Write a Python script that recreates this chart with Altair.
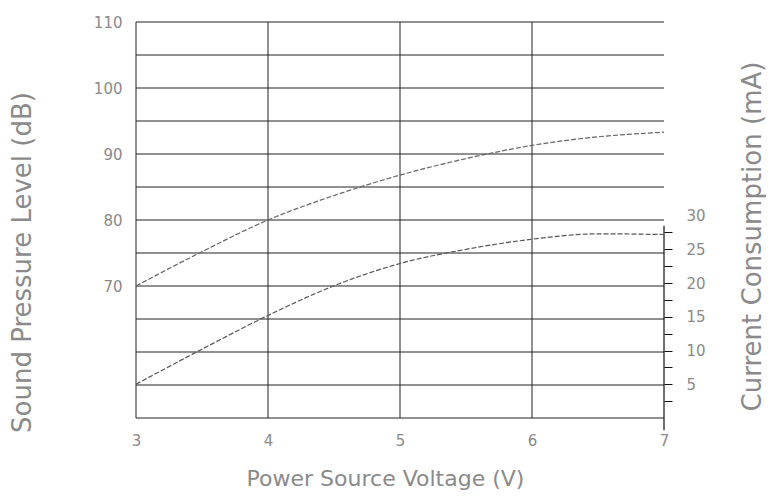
import altair as alt
import pandas as pd

# ---- data ----
voltage = [3.0, 3.5, 4.0, 4.5, 5.0, 5.5, 6.0, 6.5, 7.0]
spl_db = [70.0, 75.2, 80.0, 83.7, 86.8, 89.3, 91.3, 92.6, 93.3]
current_ma = [5.0, 10.2, 15.2, 19.6, 22.9, 25.0, 26.5, 27.3, 27.2]

x_ticks = [3, 4, 5, 6, 7]
v_grid = [3, 4, 5, 6]
db_grid = [50, 55, 60, 65, 70, 75, 80, 85, 90, 95, 100, 105, 110]
db_labels = [70, 80, 90, 100, 110]
ma_ticks = [2.5, 5, 7.5, 10, 12.5, 15, 17.5, 20, 22.5, 25, 27.5, 30]
ma_axis_voltage = [7]
ma_axis_lo = [-1.8]
ma_axis_hi = [28.5]

curve_df = pd.DataFrame({"voltage": voltage, "spl": spl_db, "current": current_ma})
hgrid_df = pd.DataFrame({"db": db_grid})
vgrid_df = pd.DataFrame({"voltage": v_grid})
raxis_df = pd.DataFrame({"voltage": ma_axis_voltage, "lo": ma_axis_lo, "hi": ma_axis_hi})

TEXT = "#8a8a8a"
FONT = "DejaVu Sans"

x_scale = alt.Scale(domain=[3, 7], nice=False, zero=False)
db_scale = alt.Scale(domain=[50, 110], nice=False, zero=False)
ma_scale = alt.Scale(domain=[0, 58.7], nice=False, zero=False)

x_axis = alt.Axis(
    values=x_ticks, grid=False, domain=False, ticks=False, labelFlush=False,
    labelFont=FONT, labelFontSize=15, labelColor=TEXT, labelPadding=15,
    title="Power Source Voltage (V)", titleFont=FONT, titleFontSize=22,
    titleFontWeight="normal", titleColor=TEXT, titleX=249, titleY=60,
    titleAlign="center", titleBaseline="middle",
)
left_axis = alt.Axis(
    orient="left", values=db_labels, grid=False, domain=False, ticks=False,
    labelFont=FONT, labelFontSize=15, labelColor=TEXT, labelPadding=14,
    title="Sound Pressure Level (dB)", titleFont=FONT, titleFontSize=26,
    titleFontWeight="normal", titleColor=TEXT, titleAngle=270,
    titleX=-114, titleY=240, titleAlign="center", titleBaseline="middle",
)
right_axis = alt.Axis(
    orient="right", values=ma_ticks, grid=False, domain=False,
    ticks=True, tickSize=8, tickColor="#111", tickWidth=1,
    tickOpacity={"condition": {"test": "datum.value == 30", "value": 0}, "value": 1},
    labelExpr="datum.value % 5 == 0 ? datum.label : ''",
    labelFont=FONT, labelFontSize=15, labelColor=TEXT, labelPadding=14,
    title="Current Consumption (mA)", titleFont=FONT, titleFontSize=26,
    titleFontWeight="normal", titleColor=TEXT, titleAngle=270,
    titleX=88, titleY=214, titleAlign="center", titleBaseline="middle",
)

hgrid = alt.Chart(hgrid_df).mark_rule(color="#222", strokeWidth=1).encode(
    y=alt.Y("db:Q", scale=db_scale, axis=left_axis)
)
vgrid = alt.Chart(vgrid_df).mark_rule(color="#222", strokeWidth=1).encode(
    x=alt.X("voltage:Q", scale=x_scale, axis=x_axis)
)
spl_line = alt.Chart(curve_df).mark_line(
    color="#666", strokeWidth=1.2, strokeDash=[5, 2], interpolate="monotone"
).encode(
    x=alt.X("voltage:Q", scale=x_scale, axis=x_axis),
    y=alt.Y("spl:Q", scale=db_scale, axis=left_axis),
)

cur_line = alt.Chart(curve_df).mark_line(
    color="#555", strokeWidth=1.2, strokeDash=[5, 2], interpolate="monotone"
).encode(
    x=alt.X("voltage:Q", scale=x_scale, axis=x_axis),
    y=alt.Y("current:Q", scale=ma_scale, axis=right_axis),
)
raxis = alt.Chart(raxis_df).mark_rule(color="#111", strokeWidth=1.2).encode(
    x=alt.X("voltage:Q", scale=x_scale, axis=x_axis),
    y=alt.Y("lo:Q", scale=ma_scale, axis=right_axis),
    y2="hi:Q",
)

left_layer = alt.layer(hgrid, vgrid, spl_line)
right_layer = alt.layer(raxis, cur_line)

chart = (
    alt.layer(left_layer, right_layer)
    .resolve_scale(y="independent")
    .properties(
        width=528,
        height=396,
        autosize=alt.AutoSizeParams(type="none"),
        padding={"left": 128, "top": 14, "right": 102, "bottom": 72},
        background="white",
    )
    .configure_view(stroke=None)
)

chart.save("out.html", embed_options={"renderer": "svg", "actions": False})
